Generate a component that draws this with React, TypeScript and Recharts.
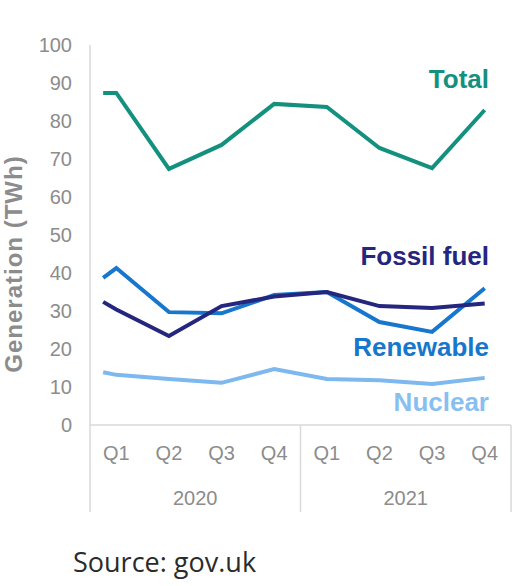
import { Customized, Line, LineChart, XAxis, YAxis } from 'recharts'

const quarters = ['Q1', 'Q2', 'Q3', 'Q4', 'Q1', 'Q2', 'Q3', 'Q4']
const years = ['2020', '2021']
const yTicks = [0, 10, 20, 30, 40, 50, 60, 70, 80, 90, 100]

// quarterly generation, TWh
const total = [87.4, 67.4, 73.7, 84.5, 83.7, 72.9, 67.6, 82.9]
const fossil = [30.4, 23.4, 31.3, 33.8, 35.0, 31.3, 30.8, 32.0]
const renewable = [41.3, 29.7, 29.4, 34.2, 35.0, 27.1, 24.5, 36.0]
const nuclear = [13.2, 12.1, 11.1, 14.7, 12.1, 11.8, 10.8, 12.4]

// the lines open a little before the first quarter
const openAt = 0.25
const totalOpen = 87.4
const fossilOpen = 32.4
const renewableOpen = 38.7
const nuclearOpen = 13.9

const rows = [
  { x: openAt, total: totalOpen, fossil: fossilOpen, renewable: renewableOpen, nuclear: nuclearOpen },
  ...quarters.map((_, i) => ({
    x: i + 0.5,
    total: total[i],
    fossil: fossil[i],
    renewable: renewable[i],
    nuclear: nuclear[i],
  })),
]

const perYear = 4
const axisTicks = [
  ...quarters.map((_, i) => i + 0.5),
  ...years.map((_, i) => i * perYear),
  years.length * perYear,
  ...years.map((_, i) => i * perYear + perYear / 2),
].sort((a, b) => a - b)

const colors = {
  total: '#14907e',
  fossil: '#25267d',
  renewable: '#1677cc',
  nuclear: '#7db8ee',
}

const font = '"Liberation Sans", Arial, sans-serif'
const grey = '#8c8c8c'
const axisGrey = '#d9d9d9'

function QuarterTick(props: any) {
  const { x, y, payload } = props
  const v = payload.value as number
  if (v % perYear === 0) {
    return <line x1={x} y1={y} x2={x} y2={y + 87} stroke={axisGrey} strokeWidth={1.5} />
  }
  if (v % 1 === 0.5) {
    return (
      <text x={x} y={y + 35} textAnchor="middle" fill={grey} fontSize={20} fontFamily={font}>
        {quarters[v - 0.5]}
      </text>
    )
  }
  return (
    <text x={x} y={y + 80} textAnchor="middle" fill={grey} fontSize={20} fontFamily={font}>
      {years[(v - perYear / 2) / perYear]}
    </text>
  )
}

function Annotations() {
  const label = { fontFamily: font, fontWeight: 700, fontSize: 26, textAnchor: 'end' as const }
  return (
    <g>
      <text x={489} y={88} fill={colors.total} {...label}>Total</text>
      <text x={489} y={265} fill={colors.fossil} {...label}>Fossil fuel</text>
      <text x={489} y={356} fill={colors.renewable} {...label}>Renewable</text>
      <text x={489} y={411} fill="#88bff0" {...label}>Nuclear</text>
      <text
        x={0}
        y={0}
        transform="translate(13 264) rotate(-90)"
        textAnchor="middle"
        dominantBaseline="central"
        fill={grey}
        fontFamily={font}
        fontWeight={700}
        fontSize={24}
        letterSpacing={1}
      >
        Generation (TWh)
      </text>
      <text x={73} y={572} fill="#2b2b2b" fontFamily='"Open Sans", sans-serif' fontSize={27}>
        Source: gov.uk
      </text>
    </g>
  )
}

export default function App() {
  return (
    <div style={{ position: 'absolute', left: 0, top: 0, width: 518, height: 586, background: '#fff' }}>
      <LineChart width={518} height={586} data={rows} margin={{ top: 45, right: 7, left: 0, bottom: 71 }}>
        <XAxis
          type="number"
          dataKey="x"
          domain={[0, years.length * perYear]}
          ticks={axisTicks}
          interval={0}
          tickLine={false}
          tickSize={0}
          tickMargin={0}
          stroke={axisGrey}
          strokeWidth={1.5}
          height={90}
          tick={<QuarterTick />}
        />
        <YAxis
          domain={[0, 100]}
          ticks={yTicks}
          interval={0}
          width={90}
          tickLine={false}
          tickSize={0}
          tickMargin={18}
          stroke={axisGrey}
          strokeWidth={1.5}
          tick={{ fill: grey, fontSize: 20, fontFamily: font }}
        />
        <Line type="linear" dataKey="total" stroke={colors.total} strokeWidth={4} dot={false} isAnimationActive={false} />
        <Line type="linear" dataKey="renewable" stroke={colors.renewable} strokeWidth={4} dot={false} isAnimationActive={false} />
        <Line type="linear" dataKey="fossil" stroke={colors.fossil} strokeWidth={4} dot={false} isAnimationActive={false} />
        <Line type="linear" dataKey="nuclear" stroke={colors.nuclear} strokeWidth={4} dot={false} isAnimationActive={false} />
        <Customized component={Annotations} />
      </LineChart>
    </div>
  )
}
